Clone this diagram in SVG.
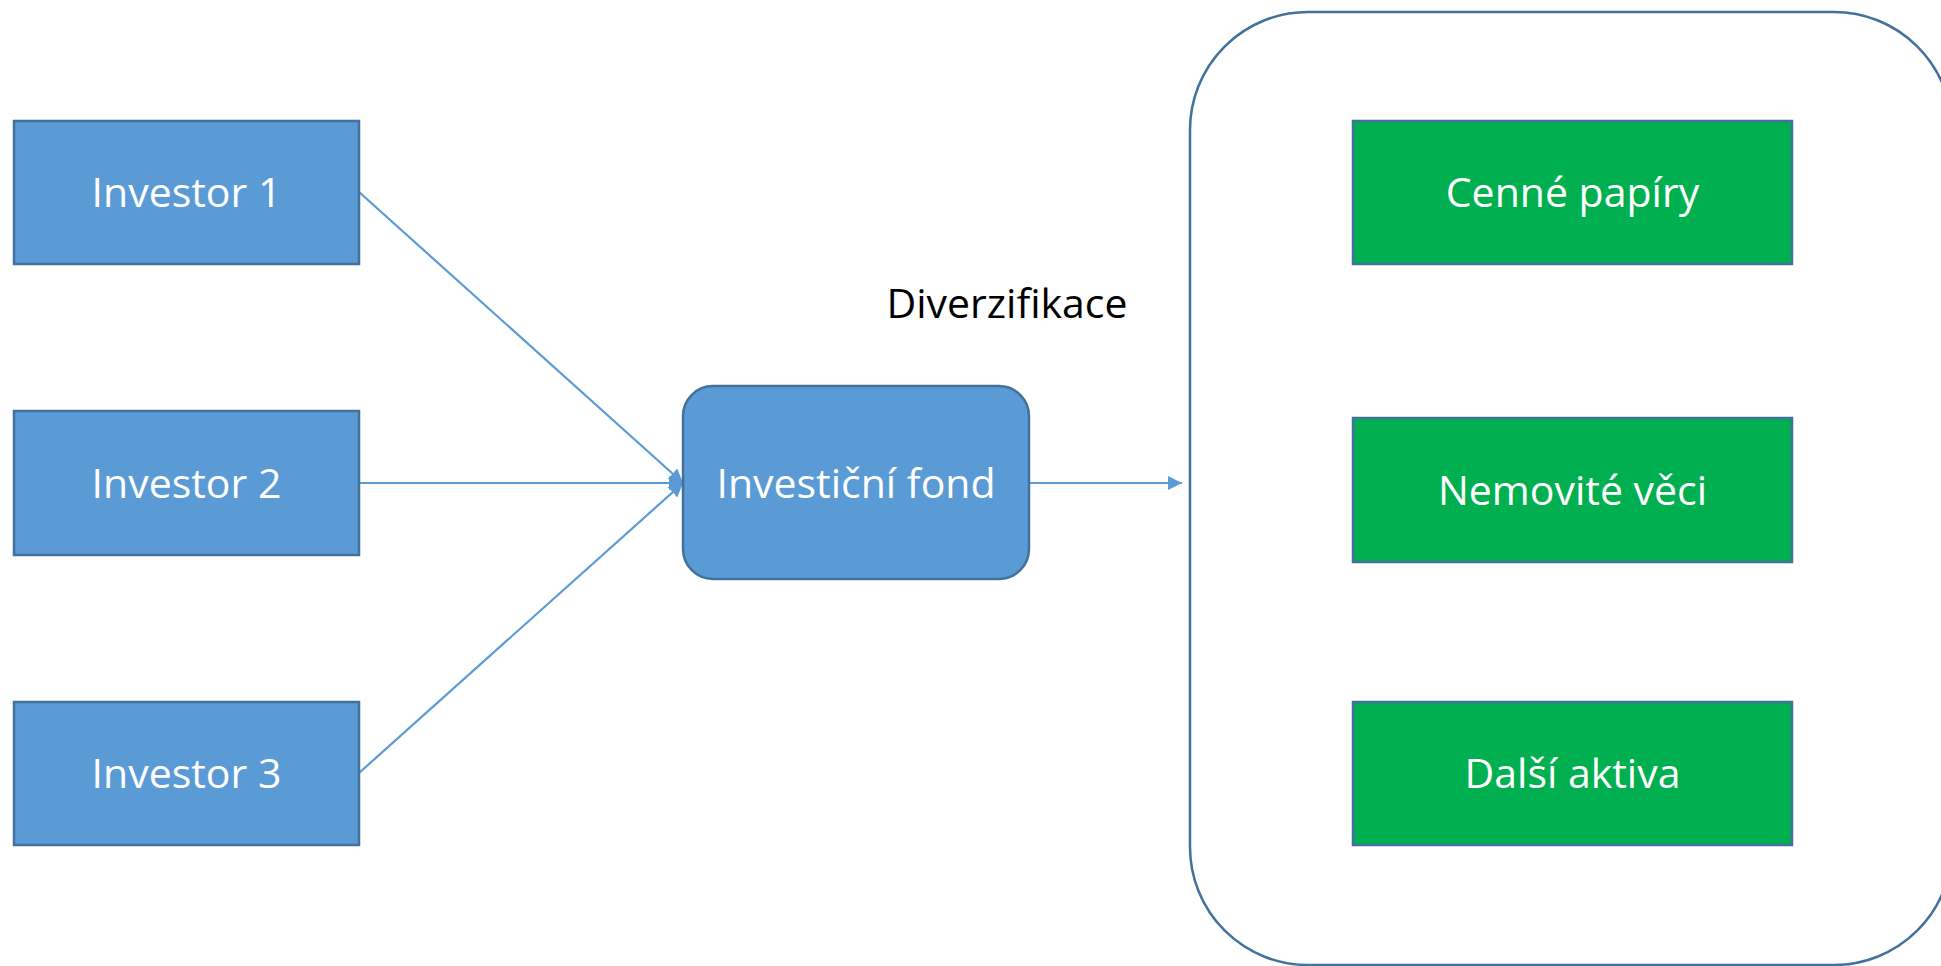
<svg xmlns="http://www.w3.org/2000/svg" width="1941" height="966" viewBox="0 0 1941 966">
<style>
.blue{fill:#5B9BD5;stroke:#41719C;stroke-width:2.5}
.green{fill:#00B050;stroke:#41719C;stroke-width:2.5}
.lbl{font-family:"Open Sans","Liberation Sans",sans-serif;font-size:41px;fill:#FFFFFF;text-anchor:middle}
.conn{stroke:#5B9BD5;stroke-width:2.2;fill:none}
</style>
<defs>
<marker id="arrB" viewBox="0 0 10 10" refX="10" refY="5" markerWidth="14" markerHeight="14" markerUnits="userSpaceOnUse" orient="auto">
<path d="M0,0 L10,5 L0,10 z" fill="#5B9BD5"/>
</marker>
</defs>
<rect width="1941" height="966" fill="#FFFFFF"/>
<g id="container">
<rect x="1190" y="12" width="762" height="953" rx="118" ry="118" fill="none" stroke="#41719C" stroke-width="2.5"/>
</g>
<g id="connectors">
<line class="conn" x1="359" y1="192" x2="683" y2="483" marker-end="url(#arrB)"/>
<line class="conn" x1="359" y1="483" x2="683" y2="483" marker-end="url(#arrB)"/>
<line class="conn" x1="359" y1="773" x2="683" y2="483" marker-end="url(#arrB)"/>
<line class="conn" x1="1029" y1="483" x2="1182" y2="483" marker-end="url(#arrB)"/>
</g>
<g id="investor1">
<rect class="blue" x="14" y="121" width="345" height="143"/>
<text class="lbl" x="186.5" y="207">Investor 1</text>
</g>
<g id="investor2">
<rect class="blue" x="14" y="411" width="345" height="144"/>
<text class="lbl" x="186.5" y="498">Investor 2</text>
</g>
<g id="investor3">
<rect class="blue" x="14" y="702" width="345" height="143"/>
<text class="lbl" x="186.5" y="788">Investor 3</text>
</g>
<g id="fund">
<rect class="blue" x="683" y="386" width="346" height="193" rx="30" ry="30"/>
<text class="lbl" x="856" y="498">Investiční fond</text>
</g>
<g id="diverzifikace">
<text x="1007" y="318" font-family="Open Sans, Liberation Sans, sans-serif" font-size="41" fill="#000000" text-anchor="middle">Diverzifikace</text>
</g>
<g id="cenne">
<rect class="green" x="1353" y="121" width="439" height="143"/>
<text class="lbl" x="1572.5" y="207">Cenné papíry</text>
</g>
<g id="nemovite">
<rect class="green" x="1353" y="418" width="439" height="144"/>
<text class="lbl" x="1572.5" y="505">Nemovité věci</text>
</g>
<g id="dalsi">
<rect class="green" x="1353" y="702" width="439" height="143"/>
<text class="lbl" x="1572.5" y="788">Další aktiva</text>
</g>
</svg>
